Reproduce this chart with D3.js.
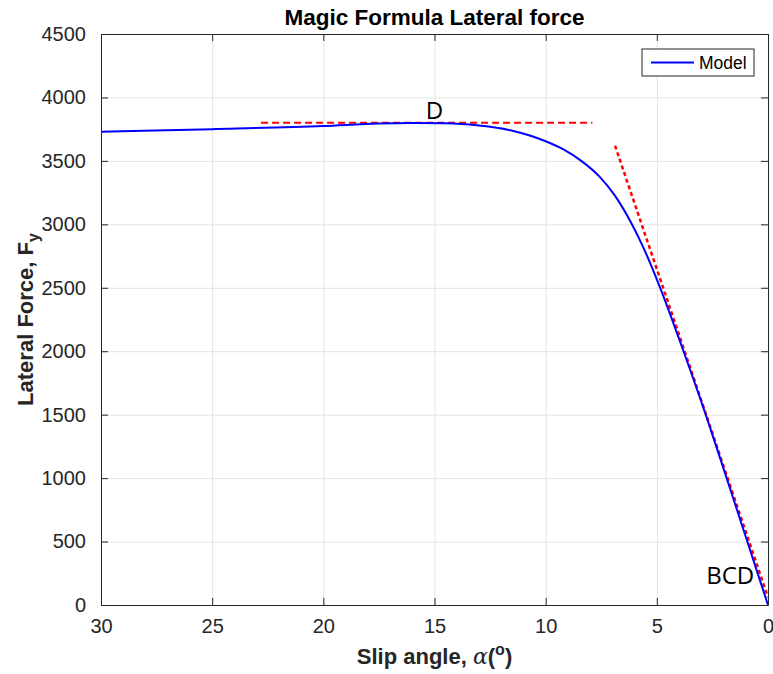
<!DOCTYPE html>
<html>
<head>
<meta charset="utf-8">
<script src="https://cdn.jsdelivr.net/npm/d3@7"></script>
<style>
  body { margin: 0; background: #fff; }
  text { font-family: "Liberation Sans", Arial, sans-serif; }
</style>
</head>
<body>
<div id="chart"></div>
<script>
// DATA
const slipAngle = [30, 25, 20, 17.5, 16, 14.5, 13, 11.5, 10, 9.2, 8.4, 7.6, 6.9, 6.12, 5.6, 4.85, 3.8, 2.8, 1.86, 0.93, 0];
const lateralForce = [3730, 3750, 3775, 3795, 3798, 3796, 3778, 3738, 3655, 3590, 3500, 3380, 3230, 3000, 2815, 2500, 2000, 1500, 1000, 500, 0];
const peakLine = {alpha: [22.8, 7.9], force: [3800, 3800]};
const slopeLine = {alpha: [6.88, 0], force: [3620, 60]};
const xTicks = [30, 25, 20, 15, 10, 5, 0];
const yTicks = [0, 500, 1000, 1500, 2000, 2500, 3000, 3500, 4000, 4500];

const W = 773, H = 674;
const margin = {top: 34, right: 5, bottom: 69, left: 101},
    width = W - margin.left - margin.right,
    height = H - margin.top - margin.bottom;
const axisColour = "#262626";

const svg = d3.select("#chart")
    .append("svg")
        .attr("width", W)
        .attr("height", H)
    .append("g")
        .attr("transform", `translate(${margin.left}, ${margin.top})`);

const x = d3.scaleLinear().domain([30, 0]).range([0, width]);
const y = d3.scaleLinear().domain([0, 4500]).range([height, 0]);

// grid
svg.append("g")
    .attr("transform", `translate(0, ${height})`)
    .call(d3.axisBottom(x).tickValues(xTicks).tickSize(-height).tickFormat(""))
    .call(g => g.select(".domain").remove())
    .selectAll("line").attr("stroke", "#e3e3e3");
svg.append("g")
    .call(d3.axisLeft(y).tickValues(yTicks).tickSize(-width).tickFormat(""))
    .call(g => g.select(".domain").remove())
    .selectAll("line").attr("stroke", "#e3e3e3");

// reference lines
const line = d3.line().x(d => x(d[0])).y(d => y(d[1]));
svg.append("path")
    .datum(d3.zip(peakLine.alpha, peakLine.force))
    .attr("d", line)
    .attr("fill", "none")
    .attr("stroke", "#ff0000")
    .attr("stroke-width", 2)
    .attr("stroke-dasharray", "7,4");
svg.append("path")
    .datum(d3.zip(slopeLine.alpha, slopeLine.force))
    .attr("d", line)
    .attr("fill", "none")
    .attr("stroke", "#ff0000")
    .attr("stroke-width", 2.5)
    .attr("stroke-dasharray", "4,3");

// model curve
svg.append("path")
    .datum(d3.zip(slipAngle, lateralForce))
    .attr("d", d3.line().x(d => x(d[0])).y(d => y(d[1])).curve(d3.curveMonotoneX))
    .attr("fill", "none")
    .attr("stroke", "#0000ff")
    .attr("stroke-width", 2);

// axes (box with inward ticks)
function styleAxis(g) {
    g.selectAll("path, line").attr("stroke", axisColour);
    g.selectAll("text")
        .attr("fill", axisColour)
        .style("font-size", "20px")
        .style("font-family", "Liberation Sans, Arial, sans-serif");
}
svg.append("g")
    .attr("transform", `translate(0, ${height})`)
    .call(d3.axisBottom(x).tickValues(xTicks).tickSize(-7).tickSizeOuter(0).tickPadding(14))
    .call(styleAxis);
svg.append("g")
    .call(d3.axisTop(x).tickValues(xTicks).tickSize(-7).tickSizeOuter(0).tickFormat(""))
    .call(styleAxis);
svg.append("g")
    .call(d3.axisLeft(y).tickValues(yTicks).tickSize(-7).tickSizeOuter(0).tickPadding(15).tickFormat(d3.format("d")))
    .call(styleAxis);
svg.append("g")
    .attr("transform", `translate(${width}, 0)`)
    .call(d3.axisRight(y).tickValues(yTicks).tickSize(-7).tickSizeOuter(0).tickFormat(""))
    .call(styleAxis);

// annotations
svg.append("text")
    .attr("x", x(15))
    .attr("y", y(3830))
    .attr("text-anchor", "middle")
    .style("font-family", "Open Sans, sans-serif")
    .style("font-size", "24px")
    .text("D");
svg.append("text")
    .attr("x", x(2.78))
    .attr("y", y(165))
    .style("font-family", "Open Sans, sans-serif")
    .style("font-size", "24px")
    .text("BCD");

// title
svg.append("text")
    .attr("x", width / 2)
    .attr("y", -9)
    .attr("text-anchor", "middle")
    .style("font-weight", "bold")
    .style("font-size", "22.5px")
    .attr("fill", "#000")
    .text("Magic Formula Lateral force");

// x label
const xl = svg.append("text")
    .attr("x", width / 2)
    .attr("y", height + 59)
    .attr("text-anchor", "middle")
    .style("font-weight", "bold")
    .style("font-size", "22px")
    .attr("fill", axisColour);
xl.append("tspan").text("Slip angle, ");
xl.append("tspan")
    .style("font-family", "DejaVu Serif, serif")
    .style("font-style", "italic")
    .style("font-weight", "normal")
    .text("α");
xl.append("tspan").text("(");
xl.append("tspan").attr("dy", -9).style("font-size", "16px").text("o");
xl.append("tspan").attr("dy", 9).text(")");

// y label
const yl = svg.append("text")
    .attr("transform", `translate(${33 - margin.left}, ${height / 2}) rotate(-90)`)
    .attr("text-anchor", "middle")
    .style("font-weight", "bold")
    .style("font-size", "22px")
    .attr("fill", axisColour);
yl.append("tspan").text("Lateral Force, F");
yl.append("tspan").attr("dy", 6).style("font-size", "16px").text("y");

// legend
const lg = svg.append("g").attr("transform", `translate(${642 - margin.left}, ${49 - margin.top})`);
lg.append("rect")
    .attr("width", 112)
    .attr("height", 27)
    .attr("fill", "#fff")
    .attr("stroke", "#262626")
    .attr("stroke-width", 1);
lg.append("line")
    .attr("x1", 9).attr("x2", 52)
    .attr("y1", 13.5).attr("y2", 13.5)
    .attr("stroke", "#0000ff")
    .attr("stroke-width", 2);
lg.append("text")
    .attr("x", 57)
    .attr("y", 20)
    .style("font-size", "17.5px")
    .attr("fill", "#000")
    .text("Model");
</script>
</body>
</html>
